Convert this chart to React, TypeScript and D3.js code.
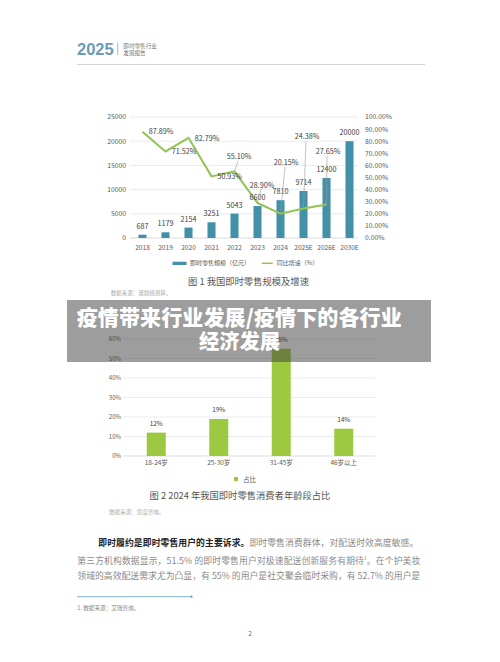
import React from 'react';
import * as d3 from 'd3';

// ---------- data ----------
const years = ['2018', '2019', '2020', '2021', '2022', '2023', '2024', '2025E', '2026E', '2030E'];
const scaleValues = [687, 1179, 2154, 3251, 5043, 6600, 7810, 9714, 12400, 20000];
const growthYears = ['2018', '2019', '2020', '2021', '2022', '2023', '2024', '2025E', '2026E'];
const growthValues = [87.89, 71.52, 82.79, 50.93, 55.1, 28.9, 20.15, 24.38, 27.65];
const leftTicks = [0, 5000, 10000, 15000, 20000, 25000];
const rightTicks = [0, 10, 20, 30, 40, 50, 60, 70, 80, 90, 100];

const ageGroups = ['18-24岁', '25-30岁', '31-45岁', '46岁以上'];
const ageShares = [12, 19, 55, 14];
const shareTicks = [0, 10, 20, 30, 40, 50, 60];

const FONT = '"Noto Sans CJK SC", "Noto Sans", sans-serif';
const TEAL = '#4391a9';
const LINE_GREEN = '#93c352';
const BAR_GREEN = '#9cc93f';

// label placement (layout only): [dx, dy, hasLeader]
const growthLabelLayout: [number, number, boolean][] = [
  [18.5, 0, false],
  [18.5, 0.3, false],
  [18.5, 0.5, false],
  [18.2, 0.3, false],
  [4.5, -14.6, true],
  [4.5, -18, true],
  [5.5, -51, true],
  [3.5, -71.8, true],
  [1.5, -53.5, true],
];

export default function App() {
  // chart 1 scales
  const x1 = d3.scaleBand<string>().domain(years).range([131, 361]).paddingInner(0.65).paddingOuter(0.325);
  const yL = d3.scaleLinear().domain([0, 25000]).range([238, 117]);
  const yR = d3.scaleLinear().domain([0, 100]).range([238, 117]);
  const cx1 = (k: string) => (x1(k) as number) + x1.bandwidth() / 2;
  const linePts: [number, number][] = growthYears.map((k, i) => [cx1(k), yR(growthValues[i])]);
  const lineGen = d3.line();

  // chart 2 scales
  const x2 = d3.scaleBand<string>().domain(ageGroups).range([125, 375]).paddingInner(0.696).paddingOuter(0.348);
  const y2 = d3.scaleLinear().domain([0, 60]).range([456, 339]);

  return (
    <svg width={500} height={662} style={{ position: 'absolute', left: 0, top: 0, background: '#fff' }} fontFamily={FONT}>
      <rect x={0} y={0} width={500} height={662} fill="#fff" />

      {/* header */}
      <text x={77} y={54.5} fontSize={16.5} fontWeight={700} fill="#6a9db4" fontFamily='"Liberation Sans", Arial, sans-serif'>2025</text>
      <line x1={117.7} x2={117.7} y1={42.5} y2={55} stroke="#9a9a9a" strokeWidth={0.7} />
      <text x={123.3} y={48.3} fontSize={5.6} fill="#777">即时零售行业</text>
      <text x={123.3} y={55.3} fontSize={5.6} fill="#777">发展报告</text>
      <line x1={77} x2={425} y1={64.5} y2={64.5} stroke="#d4d4d4" strokeWidth={1.2} />

      {/* chart 1 gridlines */}
      {leftTicks.map((t) => (
        <line key={'g' + t} x1={130} x2={358} y1={yL(t)} y2={yL(t)} stroke={t === 0 ? '#c8c8c8' : '#e3e3e3'} strokeWidth={0.7} />
      ))}
      {leftTicks.map((t) => (
        <text key={'l' + t} x={126} y={yL(t) + 2.4} fontSize={6.8} fill="#595959" textAnchor="end">{t}</text>
      ))}
      {rightTicks.map((t) => (
        <text key={'r' + t} x={365} y={yR(t) + 2.4} fontSize={6.8} fill="#595959">{t.toFixed(2)}%</text>
      ))}
      {years.map((k) => (
        <text key={'c' + k} x={cx1(k)} y={249.5} fontSize={6.6} fill="#595959" textAnchor="middle">{k}</text>
      ))}
      {/* bars */}
      {years.map((k, i) => (
        <rect key={'b' + k} x={x1(k)} y={yL(scaleValues[i])} width={x1.bandwidth()} height={yL(0) - yL(scaleValues[i])} fill={TEAL} />
      ))}
      {/* line */}
      <path d={lineGen(linePts) || ''} fill="none" stroke={LINE_GREEN} strokeWidth={2} strokeLinejoin="miter" />
      {/* bar labels */}
      {years.map((k, i) => (
        <text key={'bl' + k} x={cx1(k)} y={yL(scaleValues[i]) - 6} fontSize={7.2} fill="#404040" textAnchor="middle">{scaleValues[i]}</text>
      ))}
      {/* growth labels */}
      {growthYears.map((k, i) => {
        const [px, py] = linePts[i];
        const [dx, dy, lead] = growthLabelLayout[i];
        const lx = px + dx;
        const ly = py + dy;
        return (
          <g key={'gl' + k}>
            {lead && <line x1={lx - 1} y1={ly + 4.5} x2={px} y2={py} stroke="#9a9a9a" strokeWidth={0.6} />}
            <text x={lx} y={ly + 2.6} fontSize={7.2} fill="#404040" textAnchor="middle">{growthValues[i].toFixed(2)}%</text>
          </g>
        );
      })}
      {/* legend 1 */}
      <rect x={172.5} y={261.7} width={14} height={3.3} fill={TEAL} />
      <text x={190} y={265.4} fontSize={6} fill="#595959">即时零售规模（亿元）</text>
      <line x1={261.7} x2={272.7} y1={263.3} y2={263.3} stroke={LINE_GREEN} strokeWidth={1.5} />
      <text x={276.7} y={265.4} fontSize={6} fill="#595959">同比增速（%）</text>
      <text x={248.5} y={285} fontSize={9.3} fill="#555" textAnchor="middle">图 1 我国即时零售规模及增速</text>
      <text x={110.7} y={295.3} fontSize={5.5} fill="#aaa">数据来源：课题组测算。</text>

      {/* chart 2 */}
      {shareTicks.map((t) => (
        <line key={'g2' + t} x1={123} x2={375} y1={y2(t)} y2={y2(t)} stroke={t === 0 ? '#cfcfcf' : '#e3e3e3'} strokeWidth={0.7} />
      ))}
      {shareTicks.map((t) => (
        <text key={'t2' + t} x={121} y={y2(t) + 2.2} fontSize={6} fill="#595959" textAnchor="end">{t}%</text>
      ))}
      {ageGroups.map((k, i) => (
        <rect key={'b2' + k} x={x2(k)} y={y2(ageShares[i])} width={x2.bandwidth()} height={y2(0) - y2(ageShares[i])} fill={BAR_GREEN} />
      ))}
      {ageGroups.map((k, i) => (
        <text key={'v2' + k} x={(x2(k) as number) + x2.bandwidth() / 2} y={y2(ageShares[i]) - 6.8} fontSize={6.5} fill="#404040" textAnchor="middle">{ageShares[i]}%</text>
      ))}
      {ageGroups.map((k) => (
        <text key={'c2' + k} x={(x2(k) as number) + x2.bandwidth() / 2} y={465.4} fontSize={6.5} fill="#595959" textAnchor="middle">{k}</text>
      ))}
      <rect x={234} y={477} width={4} height={4} fill={BAR_GREEN} />
      <text x={243} y={481.5} fontSize={6.5} fill="#595959">占比</text>
      <text x={240} y={499.3} fontSize={9.3} fill="#555" textAnchor="middle">图 2 2024 年我国即时零售消费者年龄段占比</text>
      <text x={109.3} y={513.6} fontSize={5.5} fill="#aaa">数据来源：凯度咨询。</text>

      {/* body text */}
      <text x={98.3} y={546} fontSize={8.8} textLength={320} lengthAdjust="spacing">
        <tspan fill="#222" fontWeight={700}>即时履约是即时零售用户的主要诉求。</tspan>
        <tspan fill="#8a8a8a">即时零售消费群体，对配送时效高度敏感。</tspan>
      </text>
      <text x={77.3} y={563.8} fontSize={8.8} fill="#8a8a8a" textLength={343} lengthAdjust="spacing">
        第三方机构数据显示，51.5% 的即时零售用户对极速配送创新服务有期待<tspan fontSize={5} dy={-3.5}>1</tspan><tspan dy={3.5}>。在个护美妆</tspan>
      </text>
      <text x={77.3} y={579.4} fontSize={8.8} fill="#8a8a8a" textLength={343} lengthAdjust="spacing">
        领域的高效配送需求尤为凸显，有 55% 的用户是社交聚会临时采购，有 52.7% 的用户是
      </text>
      <line x1={77} x2={191.5} y1={596.7} y2={596.7} stroke="#5d9bb1" strokeWidth={0.8} />
      <circle cx={191.5} cy={596.7} r={1.1} fill="#5d9bb1" />
      <text x={77.3} y={610.3} fontSize={5.6} fill="#888">1. 数据来源：艾瑞咨询。</text>
      <text x={250} y={635.6} fontSize={6.5} fill="#666" textAnchor="middle">2</text>

      {/* overlay band with title */}
      <rect x={67} y={300} width={364} height={62} fill="rgb(60,60,60)" fillOpacity={0.5} />
      <text x={239.2} y={324.5} fontSize={21} fontWeight={900} fill="#fff" textAnchor="middle" textLength={325} lengthAdjust="spacing">疫情带来行业发展/疫情下的各行业</text>
      <text x={239.6} y={348.5} fontSize={20.3} fontWeight={900} fill="#fff" textAnchor="middle">经济发展</text>
    </svg>
  );
}
